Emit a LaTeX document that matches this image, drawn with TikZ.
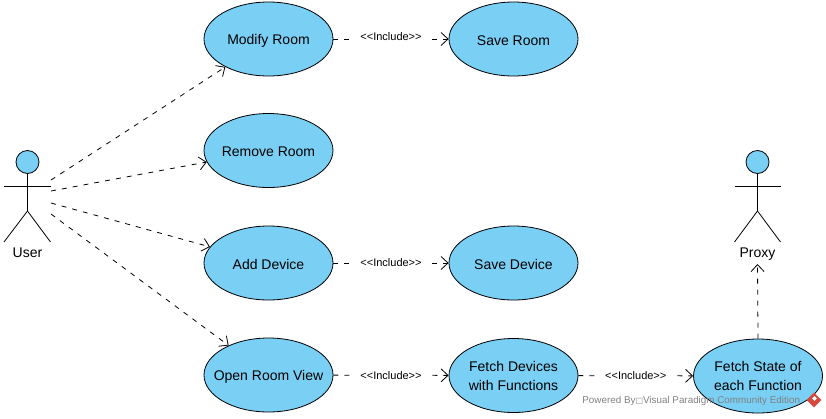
\documentclass[tikz,border=0pt]{standalone}
\usepackage{fontspec}
\setmainfont{Liberation Sans}
\newfontfamily\symbolfont{DejaVu Sans}
\usepackage{tikz}
\usetikzlibrary{arrows.meta,shapes.geometric}
\definecolor{vpblue}{RGB}{122,207,245}
\definecolor{vpred}{RGB}{214,72,62}
\tikzstyle{every picture} = [line width=0.8pt]
\tikzstyle{usecase} = [draw, ellipse, fill=vpblue, minimum width=129pt, minimum height=74pt, inner sep=-10pt, align=center, font=\fontsize{14}{19}\selectfont, execute at begin node={\rule{0pt}{13pt}}]
\tikzstyle{head} = [draw, circle, fill=vpblue, minimum size=23pt, inner sep=0pt]
\tikzstyle{actorlabel} = [font=\fontsize{14}{16}\selectfont]
\tikzstyle{depend} = [dash pattern=on 5pt off 6pt, -{Straight Barb[length=7pt,width=13pt]}]
\tikzstyle{incl} = [fill=white, inner xsep=10pt, inner ysep=1pt, font=\fontsize{11}{12}\selectfont]
\newcommand{\inclabel}{<{}<Include>{}>}
\begin{document}
\begin{tikzpicture}[x=1pt,y=-1pt]
\useasboundingbox (0,0) rectangle (826,418);
% use cases
\node [usecase] (modify) at (268.5,39) {Modify Room};
\node [usecase] (saveroom) at (513.5,39) {Save Room};
\node [usecase] (remove) at (268.5,150.5) {Remove Room};
\node [usecase] (add) at (268.5,263) {Add Device};
\node [usecase] (savedevice) at (513.5,263) {Save Device};
\node [usecase] (open) at (268.5,375) {Open Room View};
\node [usecase] (fetchdevices) at (513.5,375.5) {Fetch Devices\\with Functions};
\node [usecase] (fetchstate) at (758,376) {Fetch State of\\each Function};
% actors
\node [head] (user) at (27.5,162) {};
\draw (user.south) -- (27.5,211) -- (4,242);
\draw (27.5,211) -- (50.5,242);
\draw (4,186) -- (50.5,186);
\node [actorlabel] (userlabel) at (27.5,252.5) {User};
\node [head] (proxy) at (757.5,162) {};
\draw (proxy.south) -- (757.5,211) -- (734.5,242);
\draw (757.5,211) -- (780.5,242);
\draw (734.5,186) -- (780.5,186);
\node [actorlabel] (proxylabel) at (757.5,254) {Proxy};
\coordinate (u1) at (51,180);
\coordinate (u2) at (51,191);
\coordinate (u3) at (51,203);
\coordinate (u4) at (51,214);
\coordinate (p1) at (757.5,264);
% connectors
\draw [depend] (u1) -- (modify);
\draw [depend] (u2) -- (remove);
\draw [depend] (u3) -- (add);
\draw [depend] (u4) -- (open);
\draw [depend] (modify) -- node [incl, yshift=2pt] {\inclabel} (saveroom);
\draw [depend] (add) -- node [incl] {\inclabel} (savedevice);
\draw [depend] (open) -- node [incl] {\inclabel} (fetchdevices);
\draw [depend] (fetchdevices) -- node [incl] {\inclabel} (fetchstate);
\draw [depend] (fetchstate.north) -- (p1);
% watermark
\node [anchor=west, inner sep=0pt, text=black!50, font=\fontsize{9.85}{11}\selectfont] (mark) at (582,401) {Powered By{\symbolfont\fontsize{8}{9}\selectfont □}Visual Paradigm Community Edition};
\node [diamond, fill=vpred, minimum size=15pt, inner sep=0pt] (logo) at (814,400) {};
\node [diamond, fill=white, minimum size=5pt, inner sep=0pt] (logomark) at (814.5,398.5) {};
\end{tikzpicture}
\end{document}
